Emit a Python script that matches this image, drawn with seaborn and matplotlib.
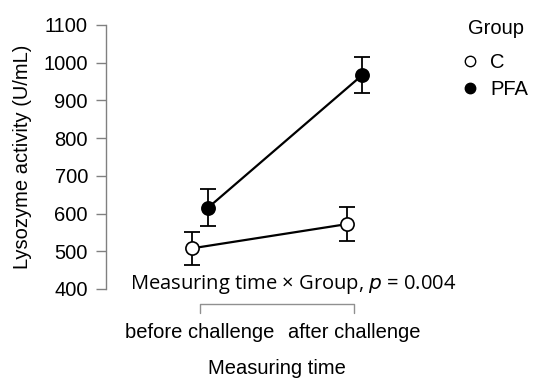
import matplotlib
matplotlib.use("Agg")
import matplotlib.pyplot as plt
import matplotlib.transforms as mtransforms
from matplotlib.lines import Line2D
import seaborn as sns
import pandas as pd

# ========== Data ==========
TIMES = ["before challenge", "after challenge"]
GROUPS = ["C", "PFA"]
C_MEAN = [508, 572]
C_ERR = [44, 46]
PFA_MEAN = [615, 967]
PFA_ERR = [49, 48]
Y_TICKS = [400, 500, 600, 700, 800, 900, 1000, 1100]
ANNOT = "Measuring time \u00d7 Group, $p$ = 0.004"

FS = 14.5

sns.set_style("white")
plt.rcParams['font.family'] = ['Liberation Sans', 'DejaVu Sans']
plt.rcParams['text.color'] = 'black'
plt.rcParams['axes.labelcolor'] = 'black'
plt.rcParams['ytick.labelcolor'] = 'black'
plt.rcParams['xtick.labelcolor'] = 'black'

fig = plt.figure(figsize=(5.5, 3.92), dpi=100)
ax = fig.add_axes([106 / 550, 1 - 289 / 392, (430 - 106) / 550, (289 - 25) / 392])

dodge = {"C": -0.05, "PFA": 0.05}
faces = {"C": "white", "PFA": "black"}
means = {"C": C_MEAN, "PFA": PFA_MEAN}
errs = {"C": C_ERR, "PFA": PFA_ERR}

for g in GROUPS:
    df = pd.DataFrame({"x": [i + dodge[g] for i in range(len(TIMES))],
                       "y": means[g]})
    ax.errorbar(df["x"], df["y"], yerr=errs[g], fmt="none", ecolor="black",
                elinewidth=1.3, capsize=5.5, capthick=1.3, zorder=2)
    sns.lineplot(data=df, x="x", y="y", ax=ax, color="black", linewidth=1.6,
                 marker="o", markersize=9.5, markerfacecolor=faces[g],
                 markeredgecolor="black", markeredgewidth=1.2, zorder=3,
                 clip_on=False)

ax.set_xlim(-0.61, 1.49)
ax.set_ylim(400, 1100)
ax.set_yticks(Y_TICKS)
ax.set_xticks([])
ax.set_xlabel("")
ax.set_ylabel("Lysozyme activity (U/mL)", fontsize=FS, labelpad=8)
for s in ["top", "right", "bottom"]:
    ax.spines[s].set_visible(False)
ax.spines["left"].set_color("#808080")
ax.spines["left"].set_linewidth(1.0)
ax.tick_params(axis="y", direction="out", length=7, width=1.0,
               color="#808080", labelsize=FS, pad=6, left=True)

# bracket for the measuring time axis
trans = mtransforms.blended_transform_factory(ax.transData, ax.transAxes)
ax.plot([0, 0, 1, 1], [-0.09, -0.055, -0.055, -0.09], color="#909090",
        lw=1.0, transform=trans, clip_on=False)
for i, t in enumerate(TIMES):
    ax.text(i, -0.163, t, transform=trans, ha="center", va="center",
            fontsize=FS)
ax.text(0.5, -0.30, "Measuring time", transform=trans, ha="center",
        va="center", fontsize=FS)

ax.text(0.6, 0.018, ANNOT, transform=trans, ha="center", va="center",
        fontsize=14.5, family=["Open Sans", "DejaVu Sans"])

# legend with the title placed separately
fig.text(468 / 550, 1 - 29 / 392, "Group", ha="left", va="center", fontsize=FS)
handles = [Line2D([], [], ls="none", marker="o", markersize=7.5,
                  markerfacecolor=faces[g], markeredgecolor="black",
                  markeredgewidth=1.0) for g in GROUPS]
leg = fig.legend(handles, GROUPS, loc="upper left",
                 bbox_to_anchor=(462 / 550, 1 - 53 / 392), frameon=False,
                 fontsize=FS, handlelength=0.8, handletextpad=0.6,
                 labelspacing=0.4, borderpad=0.0, borderaxespad=0.0)

fig.savefig("out.png", dpi=100)
